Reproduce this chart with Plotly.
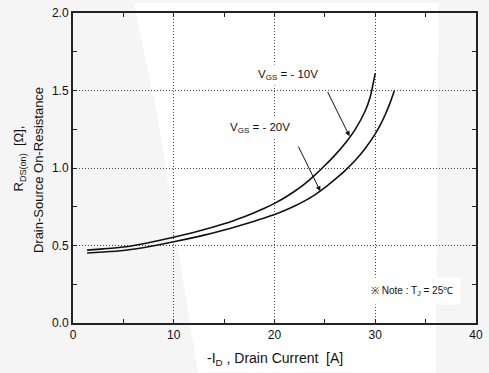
import plotly.graph_objects as go

# ---- data ----
id_10v = [1.4, 3, 5, 7.5, 10, 12.5, 15, 16, 17, 18, 19, 20, 21, 22, 23, 24, 25, 26, 27, 28, 29, 29.5, 30]
rds_10v = [0.470, 0.478, 0.490, 0.518, 0.553, 0.593, 0.640, 0.662, 0.686, 0.712, 0.740, 0.772, 0.808,
           0.850, 0.898, 0.954, 1.016, 1.083, 1.158, 1.248, 1.368, 1.458, 1.612]

id_20v = [1.4, 3, 5, 7.5, 10, 12.5, 15, 16, 17, 18, 19, 20, 21, 22, 23, 24, 25, 26, 27, 28, 29, 30,
          30.5, 31, 31.5, 31.9]
rds_20v = [0.452, 0.458, 0.468, 0.492, 0.524, 0.559, 0.600, 0.618, 0.637, 0.657, 0.678, 0.700, 0.726,
           0.755, 0.788, 0.827, 0.873, 0.926, 0.983, 1.048, 1.126, 1.220, 1.278, 1.345, 1.425, 1.500]

x_ticks = [0, 10, 20, 30, 40]
y_ticks = [0.0, 0.5, 1.0, 1.5, 2.0]
y_tick_text = ["0.0", "0.5", "1.0", "1.5", "2.0"]

W, H = 489, 373
ML, MR, MT, MB = 73, 6, 10, 50
PW, PH = W - ML - MR, H - MT - MB


def px2paper(px, py):
    return (px - ML) / PW, (H - MB - py) / PH


FONT = "Liberation Sans, Arial, sans-serif"

fig = go.Figure()
for xs, ys in [(id_10v, rds_10v), (id_20v, rds_20v)]:
    fig.add_trace(go.Scatter(x=xs, y=ys, mode="lines",
                             line=dict(color="#111", width=1.6, shape="spline", smoothing=0.5),
                             showlegend=False, hoverinfo="skip"))

axis_common = dict(
    showline=True, linecolor="#222", linewidth=2, mirror="allticks",
    ticks="inside", ticklen=4, tickwidth=1, tickcolor="#222",
    showgrid=True, gridcolor="#444", gridwidth=1, griddash="1px,2px",
    zeroline=False, tickfont=dict(family=FONT, size=12, color="#111"),
    minor=dict(ticks="inside", ticklen=4, tickwidth=1, tickcolor="#222", showgrid=False),
)
fig.update_xaxes(range=[0, 40], tickvals=x_ticks, minor_dtick=5, **axis_common)
fig.update_yaxes(range=[0, 2.0], tickvals=y_ticks, ticktext=y_tick_text, minor_dtick=0.25, **axis_common)


def path_from(points):
    pts = [px2paper(*p) for p in points]
    return "M " + " L ".join(f"{a:.4f},{b:.4f}" for a, b in pts) + " Z"


shapes = [
    dict(type="path", xref="paper", yref="paper", layer="below", line=dict(width=0), fillcolor="white",
         path=path_from([(135, 0), (445, 0), (442, 373), (200, 373), (180, 250), (160, 120)])),
]

annotations = []
# curve labels
annotations.append(dict(x=21.3, y=1.60, xref="x", yref="y", text="V<sub>GS</sub> = - 10V", showarrow=False,
                        font=dict(family=FONT, size=11.5, color="#111"), bgcolor="white", borderpad=3))
annotations.append(dict(x=18.6, y=1.26, xref="x", yref="y", text="V<sub>GS</sub> = - 20V", showarrow=False,
                        font=dict(family=FONT, size=11.5, color="#111"), bgcolor="white", borderpad=3))
# arrows
annotations.append(dict(x=27.45, y=1.205, ax=25.2, ay=1.50, xref="x", yref="y", axref="x", ayref="y", text="",
                        showarrow=True, arrowhead=2, arrowsize=1, arrowwidth=1, arrowcolor="#111"))
annotations.append(dict(x=24.55, y=0.85, ax=22.3, ay=1.148, xref="x", yref="y", axref="x", ayref="y", text="",
                        showarrow=True, arrowhead=2, arrowsize=1, arrowwidth=1, arrowcolor="#111"))
# note
annotations.append(dict(x=33.6, y=0.206, xref="x", yref="y", text="※ Note : T<sub>J</sub> = 25℃", showarrow=False,
                        font=dict(family=FONT, size=10, color="#111"), bgcolor="white", borderpad=7))
# axis titles
xt, yt = px2paper(278, 359)
annotations.append(dict(x=xt, y=yt, xref="paper", yref="paper", xanchor="center", yanchor="middle",
                        text="-I<sub>D</sub> , Drain Current  [A]",
                        showarrow=False, font=dict(family=FONT, size=14, color="#111")))
x1, y1 = px2paper(19, 157)
annotations.append(dict(x=x1, y=y1, xref="paper", yref="paper", xanchor="center", yanchor="middle",
                        text="R<sub>DS(on)</sub>  [Ω],", textangle=-90,
                        showarrow=False, font=dict(family=FONT, size=13, color="#111")))
x2, y2 = px2paper(38, 169)
annotations.append(dict(x=x2, y=y2, xref="paper", yref="paper", xanchor="center", yanchor="middle",
                        text="Drain-Source On-Resistance", textangle=-90,
                        showarrow=False, font=dict(family=FONT, size=13, color="#111")))

fig.update_layout(
    width=W, height=H, margin=dict(l=ML, r=MR, t=MT, b=MB),
    paper_bgcolor="#f5f5f5", plot_bgcolor="rgba(0,0,0,0)",
    shapes=shapes, annotations=annotations,
    font=dict(family=FONT, color="#111"),
)
fig.write_html("out.html")
